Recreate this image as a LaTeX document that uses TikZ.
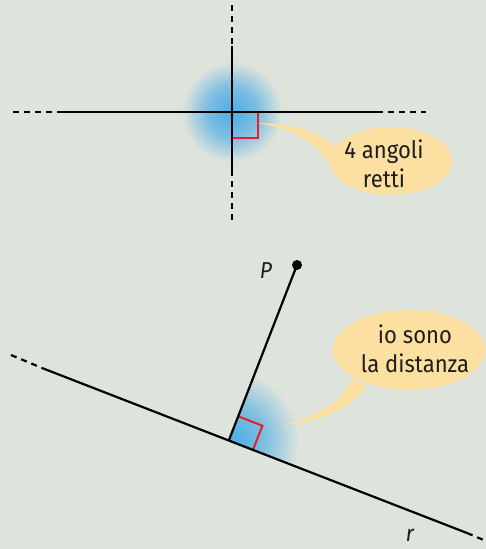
\documentclass[tikz,border=0pt]{standalone}
\usepackage{fontspec}
\setmainfont[FakeStretch=0.92]{Fira Sans}
\usetikzlibrary{calc,shapes.geometric}
\definecolor{bg}{RGB}{222,227,220}
\definecolor{glowblue}{RGB}{86,176,228}
\definecolor{bubble}{RGB}{252,224,162}
\definecolor{markred}{RGB}{232,30,40}
\definecolor{ink}{RGB}{30,28,28}
\colorlet{glowmid}{glowblue!70!bg}
\pgfdeclareradialshading{glowshade}{\pgfpoint{0bp}{0bp}}{color(0bp)=(glowblue); color(3bp)=(glowblue); color(13bp)=(glowmid); color(25bp)=(bg); color(50bp)=(bg)}
\begin{document}
\begin{tikzpicture}[x=1pt,y=-1pt,
  solidline/.style={line width=2.2pt,draw=black},
  dashline/.style={line width=2.2pt,draw=black,dash pattern=on 6pt off 5pt},
  rightmark/.style={line width=2pt,draw=markred},
  bubblefill/.style={fill=bubble,draw=none},
  bubbletext/.style={font=\fontsize{24}{29}\selectfont,text=ink,align=center,inner sep=0pt},
  labeltext/.style={font=\fontsize{23}{26}\selectfont\itshape,text=ink,inner sep=0pt}]
\useasboundingbox (0,0) rectangle (486,549);
\fill[bg] (0,0) rectangle (486,549);

% ---------- top: perpendicular lines ----------
\coordinate (O) at (232,112);
\coordinate (Vtop) at (232,5);
\coordinate (Vs1) at (232,46);
\coordinate (Vs2) at (232,170);
\coordinate (Vbot) at (232,222);
\coordinate (Hl) at (13,112);
\coordinate (Hs1) at (61,112);
\coordinate (Hs2) at (377,112);
\coordinate (Hr) at (426,112);

\shade[shading=glowshade] (O) circle (50);

\draw[rightmark] (258,112) -- (258,138) -- (232,138);

\draw[dashline] (Vtop) -- (Vs1);
\draw[solidline] (Vs1) -- (Vs2);
\draw[dashline] (Vs2) -- (Vbot);
\draw[dashline] (Hl) -- (Hs1);
\draw[solidline] (Hs1) -- (Hs2);
\draw[dashline] (Hs2) -- (Hr);

% bubble 1
\node[ellipse,bubblefill,minimum width=122pt,minimum height=68pt,inner sep=0pt] (B1) at (391,161) {};
\coordinate (T1) at (257,123);
\fill[bubble] (336,148) .. controls (320,130) and (292,124) .. (T1)
  .. controls (292,129) and (316,140) .. (333,170) -- cycle;
\node[bubbletext] (t1) at (384,164) {4 angoli\\retti};

% ---------- bottom: distance ----------
\coordinate (F) at (228.8,440.5);
\coordinate (P) at (297,265);
\coordinate (Rl) at (11,355);
\coordinate (Rs1) at (42,368);
\coordinate (Rs2) at (467,533);
\coordinate (Rr) at (486,541);

\begin{scope}
  \clip (228.8,440.5) -- (294,465.8) -- (319.3,400.6) -- (254.1,375.3) -- cycle;
  \shade[shading=glowshade] (F) circle (70);
\end{scope}

\draw[rightmark] (238.2,416.3) -- (262.4,425.7) -- (253.0,449.9);

\draw[dashline] (Rl) -- (Rs1);
\draw[solidline] (Rs1) -- (Rs2);
\draw[dashline] (Rs2) -- (Rr);
\draw[solidline] (F) -- (P);
\fill[black] (P) circle (5);

\node[labeltext] (lP) at (266,271) {P};
\node[labeltext] (lr) at (410,535) {r};

% bubble 2
\node[ellipse,bubblefill,minimum width=152pt,minimum height=80pt,inner sep=0pt] (B2) at (409,350) {};
\coordinate (T2) at (282,425);
\fill[bubble] (352,378) .. controls (345,400) and (318,417) .. (T2)
  .. controls (318,422) and (350,410) .. (366,386) -- cycle;
\node[bubbletext] (t2) at (415,349) {io sono\\la distanza};
\end{tikzpicture}
\end{document}
